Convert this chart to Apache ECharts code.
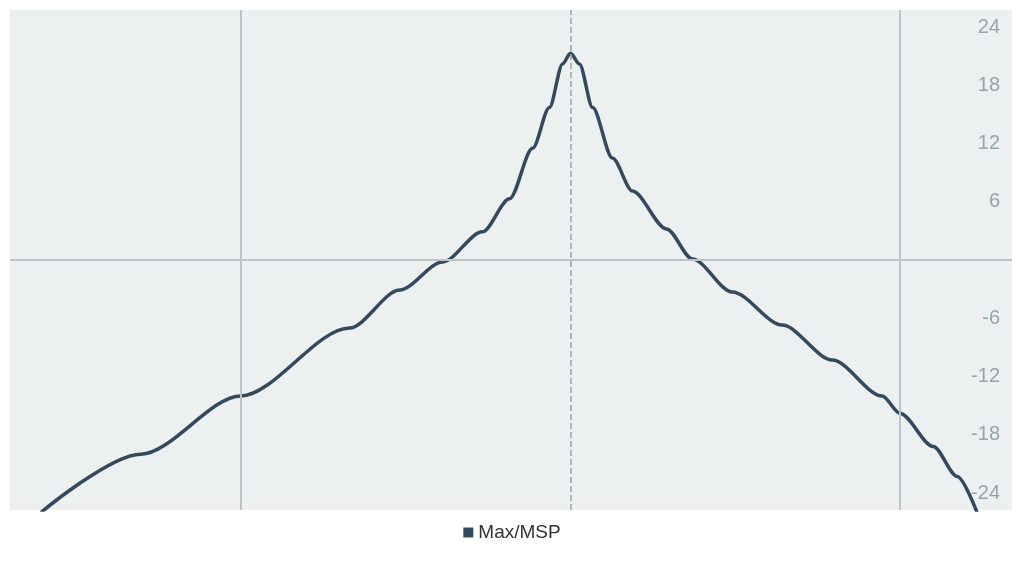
<!DOCTYPE html>
<html><head><meta charset="utf-8">
<script src="https://cdn.jsdelivr.net/npm/echarts@6/dist/echarts.min.js"></script>
<style>html,body{margin:0;padding:0;background:#fff}#c{width:1024px;height:561px}</style>
</head><body><div id="c"></div>
<script>
// x in decade units (log10 frequency), y in dB
const xs = [0.394,0.697,1.0,1.33,1.482,1.612,1.733,1.815,1.885,1.936,1.976,2.0,2.027,2.067,2.127,2.188,2.291,2.37,2.491,2.642,2.794,2.945,3.0,3.1,3.173,3.233];
const ys = [-26,-20,-14.0,-7.0,-3.1,-0.2,2.9,6.3,11.5,15.7,20.2,21.3,20.2,15.7,10.5,7.1,3.2,0.1,-3.3,-6.7,-10.3,-14.0,-15.8,-19.2,-22.3,-26];
const yTicks = [-24,-18,-12,-6,6,12,18,24];
const seriesName = 'Max/MSP';
const chart = echarts.init(document.getElementById('c'));
chart.setOption({
  animation:false,
  grid:{left:10,right:12,top:10,bottom:51,backgroundColor:'#ecf0f1',show:true,borderWidth:0},
  legend:{bottom:14,left:'center',icon:'rect',itemWidth:10,itemHeight:10,itemGap:6,textStyle:{fontSize:19,color:'#333',fontFamily:'Helvetica, Arial, Liberation Sans, sans-serif'},data:[seriesName]},
  xAxis:{type:'value',min:0.3,max:3.339,axisLine:{show:false},axisTick:{show:false},axisLabel:{show:false},splitLine:{show:false}},
  yAxis:{type:'value',position:'right',min:-25.75,max:25.75,axisLine:{show:false},axisTick:{show:false},splitLine:{show:false},
    axisLabel:{inside:true,margin:12,customValues:yTicks,fontSize:20,color:'#95a5a6',fontFamily:'Helvetica, Arial, Liberation Sans, sans-serif'}},
  series:[{name:seriesName,type:'line',smooth:0.3,smoothMonotone:'x',showSymbol:false,data:xs.map((x,i)=>[x,ys[i]]),
    lineStyle:{color:'#34495e',width:3.5},itemStyle:{color:'#34495e'},
    markLine:{silent:true,symbol:'none',label:{show:false},data:[
      {xAxis:1,lineStyle:{color:'#bdc3c7',type:'solid',width:2}},
      {xAxis:2,lineStyle:{color:'#95a5a6',type:'dashed',width:1.5}},
      {xAxis:3,lineStyle:{color:'#bdc3c7',type:'solid',width:2}},
      {yAxis:0,lineStyle:{color:'#bdc3c7',type:'solid',width:2}}
    ]}}]
});
</script></body></html>
